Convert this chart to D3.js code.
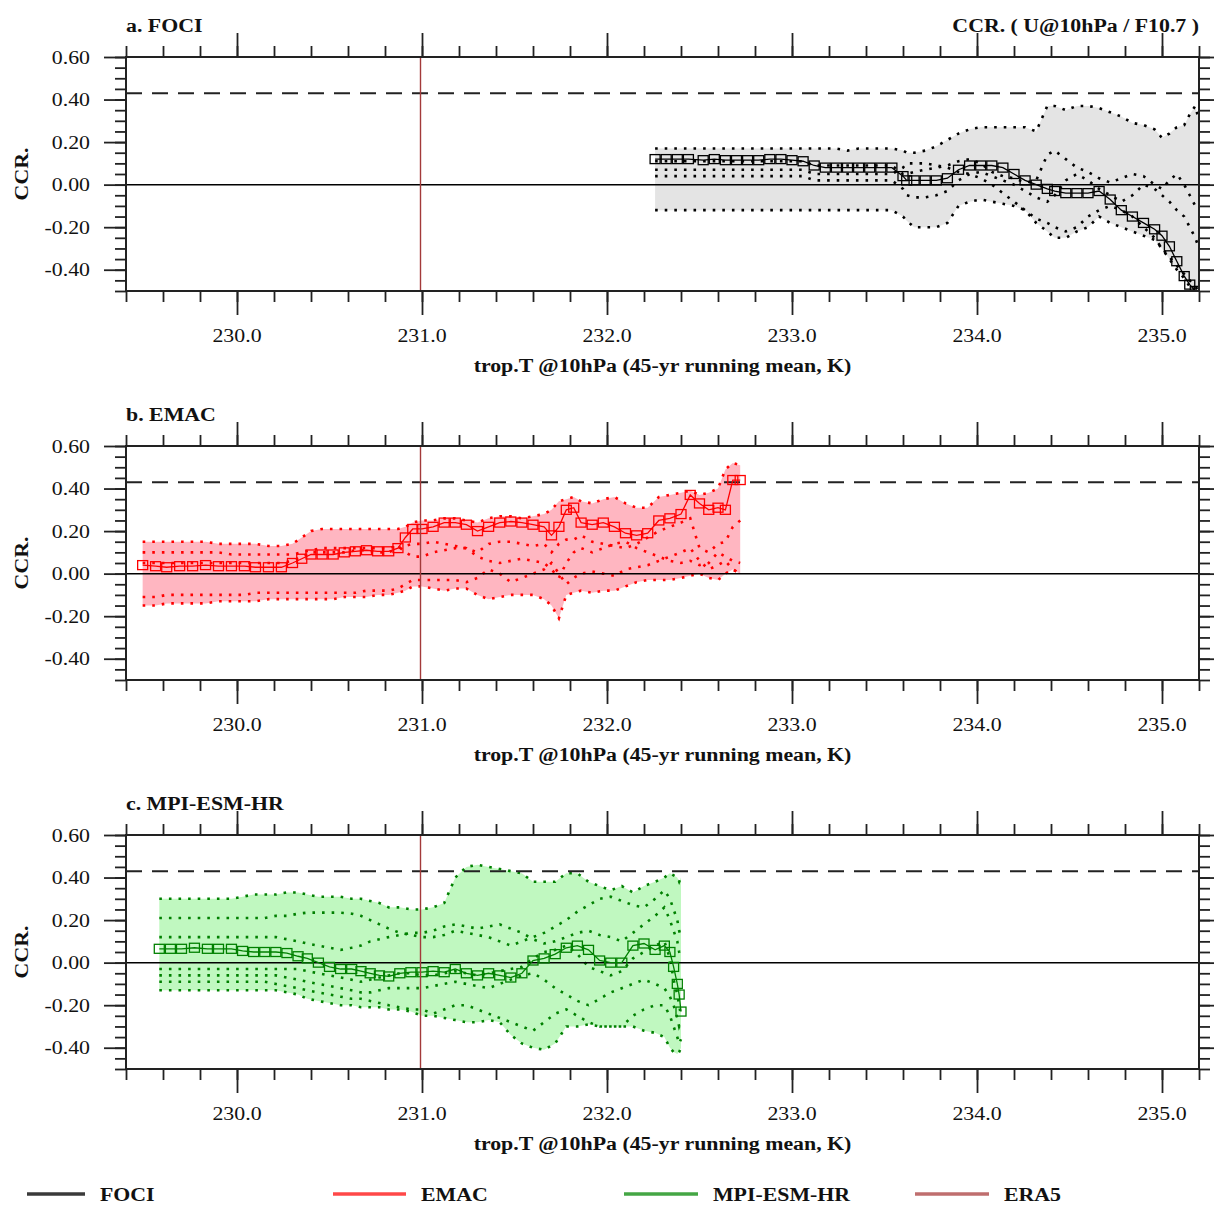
<!DOCTYPE html>
<html>
<head>
<meta charset="utf-8">
<script src="https://cdn.jsdelivr.net/npm/d3@7/dist/d3.min.js"></script>
<style>
body{margin:0;background:#fff;}
svg{display:block;font-family:"Liberation Serif","Times New Roman",serif;}
</style>
</head>
<body>
<svg id="chart" width="1214" height="1205"></svg>
<script>
//axis settings and tick labels
const xDomain = [229.4, 235.2];
const yDomain = [-0.5, 0.6];
const xMajorTicks = [230, 231, 232, 233, 234, 235];
const yMajorTicks = [-0.4, -0.2, 0, 0.2, 0.4, 0.6];
const significanceLevel = 0.43;
const era5T = 231.0;
const panelTitles = ["a. FOCI", "b. EMAC", "c. MPI-ESM-HR"];
const rightTitle = "CCR. ( U@10hPa / F10.7 )";
const xTitle = "trop.T @10hPa (45-yr running mean, K)";
const yTitle = "CCR.";
const legendNames = ["FOCI", "EMAC", "MPI-ESM-HR", "ERA5"];

//FOCI: running-mean temperature and correlations (ensemble mean + members)
const fociX = [232.26,232.32,232.38,232.44,232.52,232.58,232.64,232.70,232.76,232.82,232.88,232.94,233.00,233.06,
  233.12,233.18,233.24,233.30,233.36,233.42,233.48,233.54,
  233.60,233.62,233.66,233.72,233.78,233.84,233.90,233.96,234.02,234.08,234.14,234.20,234.26,234.32,234.38,234.42,
  234.48,234.54,234.60,234.66,234.72,234.78,234.84,234.90,234.96,235.00,235.04,235.08,235.12,235.15,235.18,235.20];
const fociMean = [0.12,0.12,0.12,0.12,0.115,0.12,0.115,0.115,0.115,0.115,0.12,0.12,0.115,0.11,
  0.09,0.08,0.08,0.08,0.08,0.08,0.08,0.08,
  0.04,0.02,0.02,0.02,0.02,0.03,0.07,0.09,0.09,0.09,0.08,0.05,0.02,0.0,-0.02,-0.03,
  -0.04,-0.04,-0.04,-0.03,-0.07,-0.12,-0.15,-0.18,-0.21,-0.24,-0.29,-0.36,-0.43,-0.47,-0.5,-0.5];
const fociA = [0.17,0.17,0.17,0.17,0.17,0.17,0.17,0.17,0.17,0.17,0.17,0.17,0.17,0.17,
  0.17,0.17,0.17,0.16,0.17,0.17,0.17,0.17,
  0.16,0.15,0.15,0.16,0.18,0.21,0.24,0.26,0.27,0.27,0.27,0.27,0.27,0.25,0.37,0.37,
  0.35,0.37,0.37,0.36,0.34,0.32,0.29,0.28,0.26,0.22,0.24,0.27,0.28,0.33,0.37,0.30];
const fociB = [0.11,0.11,0.11,0.11,0.11,0.11,0.11,0.11,0.11,0.11,0.11,0.11,0.11,0.11,
  0.09,0.09,0.09,0.09,0.09,0.09,0.09,0.09,
  0.05,0.05,0.06,0.07,0.08,0.09,0.11,0.12,0.10,0.06,0.04,0.03,0.01,0.02,0.14,0.16,
  0.12,0.08,0.06,0.03,0.01,0.03,0.05,0.04,0.0,-0.02,0.02,0.05,0.0,-0.05,-0.10,-0.12];
const fociC = [0.04,0.04,0.04,0.04,0.04,0.04,0.04,0.04,0.04,0.04,0.04,0.04,0.04,0.04,
  0.02,0.02,0.02,0.02,0.02,0.02,0.02,0.02,
  -0.02,-0.05,-0.06,-0.06,-0.05,-0.03,0.02,0.05,0.06,0.04,0.02,0.0,-0.03,-0.06,-0.08,-0.05,
  0.02,0.05,0.02,-0.02,-0.05,-0.08,-0.05,0.0,-0.02,-0.05,-0.08,-0.12,-0.15,-0.2,-0.25,-0.3];
const fociD = [-0.12,-0.12,-0.12,-0.12,-0.12,-0.12,-0.12,-0.12,-0.12,-0.12,-0.12,-0.12,-0.12,-0.12,
  -0.12,-0.12,-0.12,-0.12,-0.12,-0.12,-0.12,-0.12,
  -0.15,-0.17,-0.2,-0.2,-0.2,-0.18,-0.1,-0.08,-0.07,-0.08,-0.09,-0.1,-0.12,-0.18,-0.22,-0.25,
  -0.25,-0.22,-0.2,-0.15,-0.18,-0.2,-0.22,-0.24,-0.26,-0.3,-0.35,-0.4,-0.44,-0.48,-0.5,-0.5];
const fociE = [0.07,0.07,0.07,0.07,0.07,0.07,0.07,0.07,0.07,0.07,0.07,0.07,0.07,0.07,
  0.05,0.05,0.05,0.05,0.05,0.05,0.05,0.05,
  0.08,0.10,0.10,0.10,0.09,0.08,0.06,0.05,0.03,0.0,-0.04,-0.08,-0.12,-0.16,-0.18,-0.2,
  -0.22,-0.2,-0.15,-0.12,-0.1,-0.12,-0.15,-0.2,-0.25,-0.3,-0.34,-0.38,-0.42,-0.45,-0.48,-0.5];

//EMAC
const emacX = [229.49,229.56,229.62,229.69,229.76,229.83,229.90,229.97,230.04,230.10,230.17,230.24,
  230.30,230.35,230.40,230.46,230.52,230.58,230.64,230.70,230.76,230.82,
  230.87,230.91,230.95,231.00,231.06,231.12,231.18,231.24,231.30,231.36,
  231.42,231.48,231.54,231.60,231.66,231.70,231.74,231.78,231.82,231.86,
  231.92,231.98,232.04,232.10,232.16,232.22,232.28,232.34,232.40,232.45,
  232.50,232.55,232.60,232.64,232.68,232.72];
const emacMean = [0.04,0.035,0.03,0.035,0.035,0.04,0.035,0.035,0.035,0.03,0.03,0.03,
  0.05,0.07,0.09,0.09,0.09,0.10,0.105,0.11,0.105,0.105,
  0.12,0.17,0.21,0.21,0.22,0.24,0.24,0.23,0.20,0.22,
  0.24,0.245,0.24,0.23,0.22,0.18,0.22,0.30,0.31,0.24,
  0.23,0.24,0.22,0.19,0.18,0.19,0.25,0.26,0.28,0.37,
  0.33,0.30,0.31,0.30,0.44,0.44];
const emacA = [0.15,0.15,0.15,0.15,0.15,0.15,0.14,0.14,0.14,0.14,0.13,0.13,
  0.14,0.17,0.20,0.21,0.21,0.21,0.21,0.21,0.21,0.21,
  0.21,0.22,0.24,0.25,0.25,0.26,0.26,0.25,0.24,0.26,
  0.27,0.27,0.26,0.27,0.28,0.30,0.34,0.35,0.36,0.34,
  0.33,0.35,0.36,0.33,0.31,0.31,0.36,0.37,0.38,0.39,
  0.37,0.38,0.40,0.49,0.52,0.51];
const emacB = [0.10,0.10,0.10,0.10,0.10,0.10,0.10,0.09,0.09,0.09,0.09,0.09,
  0.09,0.10,0.11,0.12,0.12,0.12,0.12,0.12,0.12,0.12,
  0.13,0.10,0.08,0.08,0.10,0.11,0.12,0.12,0.10,0.14,
  0.15,0.15,0.14,0.13,0.14,0.10,0.14,0.16,0.16,0.18,
  0.15,0.14,0.13,0.12,0.14,0.17,0.20,0.22,0.24,0.26,
  0.12,0.10,0.14,0.15,0.22,0.25];
const emacC = [0.05,0.05,0.05,0.05,0.05,0.05,0.05,0.05,0.05,0.05,0.05,0.05,
  0.06,0.08,0.10,0.10,0.10,0.10,0.11,0.11,0.10,0.10,
  0.12,0.13,0.14,0.14,0.15,0.14,0.13,0.12,0.08,0.06,
  0.05,0.06,0.07,0.06,0.05,0.02,-0.02,0.05,0.10,0.12,
  0.10,0.12,0.14,0.15,0.12,0.10,0.08,0.06,0.05,0.06,
  0.04,0.05,0.10,0.08,0.06,0.05];
const emacD = [-0.11,-0.11,-0.10,-0.10,-0.10,-0.10,-0.10,-0.10,-0.10,-0.09,-0.09,-0.09,
  -0.09,-0.09,-0.09,-0.09,-0.09,-0.09,-0.09,-0.08,-0.08,-0.08,
  -0.07,-0.05,-0.03,-0.03,-0.03,-0.03,-0.03,-0.04,-0.02,0.02,
  0.00,-0.04,-0.02,0.00,0.02,0.05,0.00,-0.05,-0.02,0.00,
  0.01,0.00,-0.01,0.02,0.03,0.04,0.06,0.08,0.10,0.12,
  0.06,0.02,0.04,0.06,0.02,0.00];
const emacE = [-0.15,-0.15,-0.14,-0.14,-0.14,-0.14,-0.13,-0.13,-0.13,-0.13,-0.12,-0.12,
  -0.12,-0.12,-0.12,-0.12,-0.12,-0.11,-0.11,-0.11,-0.10,-0.10,
  -0.09,-0.08,-0.06,-0.06,-0.07,-0.08,-0.07,-0.07,-0.10,-0.12,
  -0.11,-0.10,-0.10,-0.10,-0.12,-0.15,-0.21,-0.10,-0.09,-0.08,
  -0.09,-0.08,-0.08,-0.06,-0.04,-0.03,-0.03,-0.03,-0.02,-0.01,
  0.00,-0.02,-0.03,0.00,0.02,0.00];

//MPI-ESM-HR
const mpiX = [229.58,229.64,229.70,229.77,229.84,229.90,229.97,
  230.03,230.09,230.15,230.21,230.27,230.33,230.38,
  230.44,230.50,230.56,230.62,230.67,230.72,230.77,230.82,230.88,230.94,
  231.00,231.06,231.12,231.18,231.24,
  231.30,231.36,231.42,231.48,231.54,
  231.60,231.66,231.72,231.78,231.84,231.90,231.96,
  232.02,232.08,232.14,232.20,232.26,
  232.31,232.34,232.36,232.38,232.39,232.40];
const mpiMean = [0.065,0.065,0.065,0.07,0.065,0.065,0.065,
  0.055,0.05,0.05,0.05,0.045,0.03,0.02,
  0.0,-0.02,-0.03,-0.03,-0.04,-0.05,-0.06,-0.065,-0.05,-0.045,
  -0.045,-0.04,-0.045,-0.03,-0.05,
  -0.06,-0.05,-0.06,-0.07,-0.05,
  0.01,0.02,0.04,0.07,0.08,0.06,0.01,
  0.0,0.0,0.08,0.09,0.06,
  0.08,0.05,-0.02,-0.10,-0.15,-0.23];
const mpiA = [0.30,0.30,0.30,0.30,0.30,0.30,0.30,
  0.31,0.32,0.32,0.32,0.33,0.33,0.32,
  0.31,0.31,0.31,0.30,0.30,0.29,0.28,0.26,0.26,0.25,
  0.25,0.26,0.28,0.40,0.45,
  0.46,0.45,0.44,0.43,0.42,
  0.38,0.38,0.38,0.42,0.42,0.38,0.36,
  0.34,0.36,0.33,0.36,0.38,
  0.40,0.42,0.41,0.40,0.38,0.40];
const mpiB = [0.21,0.21,0.21,0.21,0.21,0.21,0.21,
  0.21,0.21,0.21,0.22,0.22,0.23,0.235,
  0.235,0.235,0.235,0.23,0.22,0.20,0.18,0.16,0.14,0.13,
  0.12,0.12,0.13,0.15,0.14,
  0.13,0.12,0.10,0.08,0.10,
  0.12,0.14,0.17,0.20,0.24,0.27,0.30,
  0.31,0.29,0.27,0.26,0.30,
  0.34,0.30,0.25,0.20,0.15,0.12];
const mpiC = [0.12,0.12,0.12,0.12,0.12,0.12,0.12,
  0.12,0.12,0.12,0.12,0.11,0.10,0.09,
  0.08,0.07,0.06,0.07,0.08,0.10,0.11,0.12,0.13,0.14,
  0.14,0.15,0.17,0.18,0.17,
  0.16,0.17,0.18,0.16,0.14,
  0.11,0.09,0.10,0.12,0.14,0.15,0.13,
  0.12,0.10,0.14,0.18,0.22,
  0.26,0.20,0.15,0.10,0.05,0.02];
const mpiD = [-0.03,-0.03,-0.03,-0.03,-0.03,-0.03,-0.03,
  -0.03,-0.03,-0.03,-0.03,-0.03,-0.03,-0.04,
  -0.05,-0.06,-0.07,-0.08,-0.09,-0.08,-0.07,-0.06,-0.05,-0.05,
  -0.06,-0.06,-0.05,-0.04,-0.05,
  -0.06,-0.05,-0.04,-0.03,-0.02,
  0.02,0.05,0.06,0.08,0.04,-0.02,-0.04,
  -0.06,-0.04,0.02,0.05,0.08,
  0.10,0.02,-0.08,-0.15,-0.20,-0.25];
const mpiE = [-0.06,-0.06,-0.06,-0.06,-0.06,-0.06,-0.06,
  -0.06,-0.06,-0.06,-0.06,-0.07,-0.08,-0.09,
  -0.10,-0.11,-0.12,-0.13,-0.14,-0.14,-0.13,-0.12,-0.12,-0.12,
  -0.12,-0.11,-0.10,-0.09,-0.10,
  -0.11,-0.12,-0.10,-0.08,-0.06,
  -0.05,-0.08,-0.12,-0.15,-0.18,-0.20,-0.17,
  -0.14,-0.12,-0.10,-0.08,-0.10,
  -0.12,-0.16,-0.20,-0.26,-0.30,-0.28];
const mpiF = [-0.09,-0.09,-0.09,-0.09,-0.09,-0.09,-0.09,
  -0.09,-0.09,-0.09,-0.10,-0.11,-0.12,-0.13,
  -0.14,-0.15,-0.16,-0.17,-0.17,-0.18,-0.19,-0.20,-0.21,-0.22,
  -0.22,-0.24,-0.22,-0.20,-0.20,
  -0.22,-0.24,-0.26,-0.28,-0.30,
  -0.32,-0.28,-0.24,-0.22,-0.25,-0.28,-0.30,
  -0.30,-0.30,-0.25,-0.22,-0.20,
  -0.20,-0.25,-0.30,-0.35,-0.38,-0.36];
const mpiG = [-0.13,-0.13,-0.13,-0.13,-0.13,-0.13,-0.13,
  -0.13,-0.13,-0.13,-0.13,-0.14,-0.15,-0.17,
  -0.18,-0.19,-0.20,-0.20,-0.21,-0.21,-0.21,-0.22,-0.22,-0.23,
  -0.25,-0.25,-0.26,-0.27,-0.28,
  -0.28,-0.27,-0.28,-0.34,-0.38,
  -0.40,-0.41,-0.38,-0.30,-0.30,-0.29,-0.30,
  -0.30,-0.30,-0.30,-0.32,-0.33,
  -0.35,-0.40,-0.42,-0.43,-0.42,-0.40];

//colours
const lineColors = ["#000000", "#ff0000", "#008000"];
const shadeColors = ["#e4e4e4", "#ffb6c1", "#c0f8c0"];
const legendColors = ["#3a3a3a", "#ff4848", "#44a644", "#bf6e6e"];
const era5Color = "#a33a3a";

const panels = [
  {title: panelTitles[0], xs: fociX, mean: fociMean, members: [fociA, fociB, fociC, fociD, fociE]},
  {title: panelTitles[1], xs: emacX, mean: emacMean, members: [emacA, emacB, emacC, emacD, emacE]},
  {title: panelTitles[2], xs: mpiX, mean: mpiMean, members: [mpiA, mpiB, mpiC, mpiD, mpiE, mpiF, mpiG]}
];

const svg = d3.select("#chart");
const frameLeft = 126, frameRight = 1199, frameTop = 57, frameBottom = 291, panelStep = 389;
const stretch = 1.15;
const fontSize = 19;

const x = d3.scaleLinear().domain(xDomain).range([frameLeft, frameRight]);
const y = d3.scaleLinear().domain(yDomain).range([frameBottom, frameTop]);

//minor tick positions every 0.2 K and every 0.05
const xMinorTicks = d3.range(0, 30).map(i => xDomain[0] + i * 0.2);
const yMinorTicks = d3.range(0, 23).map(i => yDomain[0] + i * 0.05);

//plain hyphen instead of the unicode minus d3 puts in
const fmtY = v => d3.format(".2f")(v).replace("\u2212", "-");

//writes a text that is a bit wider than the font, like the original
function addText(g, str, px, py, anchor, bold, rotate) {
  return g.append("text")
    .attr("transform", "translate(" + px + "," + py + ")" + (rotate ? " rotate(-90)" : "") + " scale(" + stretch + ",1)")
    .attr("text-anchor", anchor)
    .attr("font-size", fontSize)
    .attr("font-weight", bold ? "bold" : "normal")
    .attr("fill", "#111")
    .text(str);
}

//draws the ticks on all four sides of a frame
function drawAxes(g) {
  let axes = [
    [d3.axisBottom(x), frameBottom, true, xMajorTicks, xMinorTicks, 24],
    [d3.axisTop(x), frameTop, true, xMajorTicks, xMinorTicks, 24],
    [d3.axisLeft(y), frameLeft, false, yMajorTicks, yMinorTicks, 22],
    [d3.axisRight(y), frameRight, false, yMajorTicks, yMinorTicks, 22]
  ];
  axes.forEach(function(a) {
    [[a[3], a[5]], [a[4], 11]].forEach(function(t) {
      let ax = a[0].tickValues(t[0]).tickSize(t[1]).tickSizeOuter(0).tickFormat("");
      g.append("g")
        .attr("transform", a[2] ? "translate(0," + a[1] + ")" : "translate(" + a[1] + ",0)")
        .call(ax)
        .call(s => s.select(".domain").remove())
        .call(s => s.selectAll(".tick line").attr("stroke", "#222").attr("stroke-width", 1.8));
    });
  });
}

panels.forEach(function(p, pi) {
  let g = svg.append("g").attr("transform", "translate(0," + (pi * panelStep) + ")");
  let color = lineColors[pi];

  let clipId = "clip" + pi;
  g.append("clipPath").attr("id", clipId)
    .append("rect")
    .attr("x", frameLeft).attr("y", frameTop)
    .attr("width", frameRight - frameLeft).attr("height", frameBottom - frameTop);
  let plot = g.append("g").attr("clip-path", "url(#" + clipId + ")");

  //envelope = spread of the members
  let envelope = p.xs.map((v, i) => ({
    x: v,
    lo: d3.min(p.members, m => m[i]),
    hi: d3.max(p.members, m => m[i])
  }));
  plot.append("path")
    .datum(envelope)
    .attr("fill", shadeColors[pi])
    .attr("d", d3.area().x(d => x(d.x)).y0(d => y(d.lo)).y1(d => y(d.hi)));

  //single members as dotted lines
  let line = d3.line().x((d, i) => x(p.xs[i])).y(d => y(d));
  p.members.forEach(function(m) {
    plot.append("path")
      .datum(m)
      .attr("fill", "none")
      .attr("stroke", color)
      .attr("stroke-width", 2.6)
      .attr("stroke-dasharray", "2.6,7")
      .attr("d", line);
  });

  //significance level and zero line
  plot.append("line")
    .attr("x1", frameLeft).attr("x2", frameRight)
    .attr("y1", y(significanceLevel)).attr("y2", y(significanceLevel))
    .attr("stroke", "#222").attr("stroke-width", 2)
    .attr("stroke-dasharray", "16,10");
  plot.append("line")
    .attr("x1", frameLeft).attr("x2", frameRight)
    .attr("y1", y(0)).attr("y2", y(0))
    .attr("stroke", "#000").attr("stroke-width", 1.5);

  //ensemble mean with open squares
  plot.append("path")
    .datum(p.mean)
    .attr("fill", "none")
    .attr("stroke", color)
    .attr("stroke-width", 1.3)
    .attr("d", line);
  plot.selectAll("rect.sq")
    .data(p.mean)
    .enter()
    .append("rect")
    .attr("class", "sq")
    .attr("x", (d, i) => x(p.xs[i]) - 5)
    .attr("y", d => y(d) - 4.5)
    .attr("width", 10)
    .attr("height", 9)
    .attr("fill", "none")
    .attr("stroke", color)
    .attr("stroke-width", 1.3);

  //ERA5 reference temperature
  plot.append("line")
    .attr("x1", x(era5T) - 1.5).attr("x2", x(era5T) - 1.5)
    .attr("y1", frameTop).attr("y2", frameBottom)
    .attr("stroke", era5Color).attr("stroke-width", 1.4);

  g.append("rect")
    .attr("x", frameLeft).attr("y", frameTop)
    .attr("width", frameRight - frameLeft).attr("height", frameBottom - frameTop)
    .attr("fill", "none").attr("stroke", "#222").attr("stroke-width", 2);

  drawAxes(g);

  //tick labels
  xMajorTicks.forEach(v => addText(g, d3.format(".1f")(v), x(v), frameBottom + 51, "middle", false));
  yMajorTicks.forEach(v => addText(g, fmtY(v), frameLeft - 36, y(v) + 6.5, "end", false));

  //titles
  addText(g, p.title, frameLeft, 31.5, "start", true);
  if (pi === 0) addText(g, rightTitle, frameRight, 31.5, "end", true);
  addText(g, xTitle, (frameLeft + frameRight) / 2, frameBottom + 81, "middle", true);
  addText(g, yTitle, 28, (frameTop + frameBottom) / 2, "middle", true, true);
});

//legend at the bottom
const legendStart = [27, 333, 624, 915];
const legendEnd = [85, 406, 698, 989];
legendNames.forEach(function(name, i) {
  svg.append("line")
    .attr("x1", legendStart[i]).attr("x2", legendEnd[i])
    .attr("y1", 1194).attr("y2", 1194)
    .attr("stroke", legendColors[i]).attr("stroke-width", 3.5);
  addText(svg, name, legendEnd[i] + 15, 1200.5, "start", true);
});
</script>
</body>
</html>
